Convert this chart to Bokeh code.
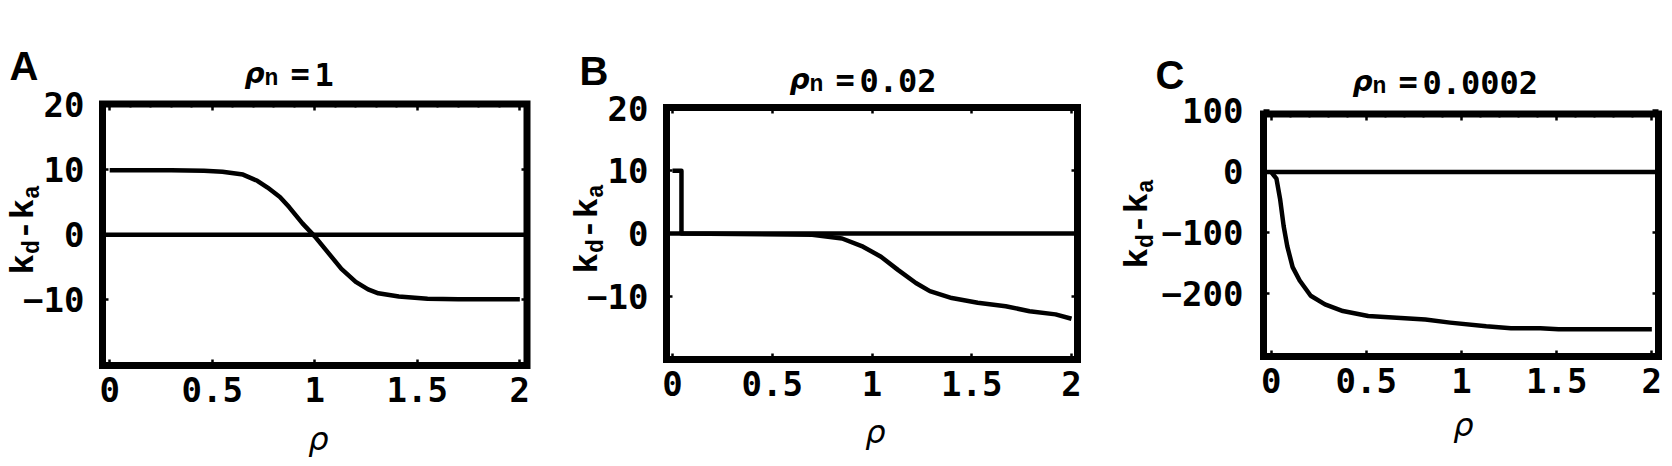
import math
from bokeh.plotting import figure
from bokeh.models import (FixedTicker, LinearAxis, Label, Range1d, BoxAnnotation,
                          CustomJSTickFormatter)
from bokeh.layouts import row
from bokeh.embed import file_html
from bokeh.resources import INLINE

# ---------------- data ----------------
rho_A = [0.0, 0.30, 0.46, 0.55, 0.65, 0.72, 0.77, 0.83, 0.875, 0.94, 1.0,
         1.065, 1.13, 1.20, 1.26, 1.31, 1.41, 1.55, 1.70, 2.0]
kdka_A = [9.9, 9.9, 9.85, 9.7, 9.25, 8.3, 7.25, 5.8, 4.25, 1.75, -0.25,
          -2.75, -5.25, -7.25, -8.4, -9.0, -9.5, -9.85, -9.9, -9.9]

rho_B = [0.0, 0.045, 0.045, 0.70, 0.85, 0.955, 1.045, 1.13, 1.22, 1.29,
         1.40, 1.53, 1.67, 1.79, 1.92, 2.0]
kdka_B = [10.0, 10.0, 0.0, -0.2, -0.8, -2.1, -3.7, -5.8, -7.9, -9.2,
          -10.3, -11.05, -11.6, -12.4, -12.9, -13.6]

rho_C = [0.0, 0.028, 0.047, 0.066, 0.085, 0.113, 0.15, 0.208, 0.283, 0.377,
         0.51, 0.66, 0.81, 0.94, 1.13, 1.26, 1.415, 1.51, 2.0]
kdka_C = [0.0, -11, -44, -89, -122, -156, -178, -203, -217, -228,
          -236, -239, -242, -247, -253, -256, -256, -258, -258]

x_ticks = [0, 0.5, 1, 1.5, 2]
y_ticks_AB = [-10, 0, 10, 20]
y_ticks_C = [-200, -100, 0, 100]
panel_letters = ["A", "B", "C"]
rho_n_values = ["1", "0.02", "0.0002"]

# ---------------- layout / style ----------------
TOP = 0          # the page template has no body margin
H = 465
TICK_FONT = "DejaVu Sans Mono"
SERIF_MONO = "Liberation Mono"
# distance from the alphabetic baseline to the 'middle' anchor, in em
MID = {"DejaVu Sans": 0.35, "DejaVu Sans Mono": 0.35, "Liberation Sans": 0.35,
       "Liberation Mono": 0.27}

specs = [
    dict(letter=panel_letters[0], rn=rho_n_values[0], x=rho_A, y=kdka_A,
         fig_left=0, w=563,
         box_px=(102, 526.5, 103.5, 365), box=(-0.035, 2.035, -20.1, 20.1),
         yt=y_ticks_AB, ymin=list(range(-20, 21, 2)), ystand=18,
         letter_pos=(9, 79), title_pos=(244, 85), xlab=(318, 450), ylab=(33, 274)),
    dict(letter=panel_letters[1], rn=rho_n_values[1], x=rho_B, y=kdka_B,
         fig_left=563, w=555,
         box_px=(666, 1077, 107, 359), box=(-0.03, 2.03, -20.1, 20.1),
         yt=y_ticks_AB, ymin=list(range(-20, 21, 2)), ystand=18,
         letter_pos=(579, 84), title_pos=(789, 91), xlab=(875, 443), ylab=(597, 273)),
    dict(letter=panel_letters[2], rn=rho_n_values[2], x=rho_C, y=kdka_C,
         fig_left=1118, w=552,
         box_px=(1263, 1658, 113.5, 356), box=(-0.04, 2.035, -302.5, 95),
         yt=y_ticks_C, ymin=list(range(-300, 81, 20)), ystand=20,
         letter_pos=(1155, 88), title_pos=(1352, 93), xlab=(1463, 436), ylab=(1147, 268)),
]

minor_x = [i / 10 for i in range(0, 21)]

figs = []
for s in specs:
    bl, br, bt, bb = s["box_px"]
    x0, x1, y0, y1 = s["box"]
    fl, fw = s["fig_left"], s["w"]
    pux = (br - bl) / (x1 - x0)
    puy = (bb - bt) / (y1 - y0)
    fx0 = x0 - (bl - fl) / pux
    fx1 = x1 + (fl + fw - br) / pux
    fy1 = y1 + (bt - TOP) / puy
    fy0 = y0 - (TOP + H - bb) / puy

    def to_data(px, py, fx0=fx0, fy1=fy1, pux=pux, puy=puy, fl=fl):
        return fx0 + (px - fl) / pux, fy1 - (py - TOP) / puy

    p = figure(width=fw, height=H, x_range=Range1d(fx0, fx1), y_range=Range1d(fy0, fy1),
               output_backend="svg", toolbar_location=None, min_border=0)
    p.grid.visible = False
    p.outline_line_color = None
    p.background_fill_color = "white"
    p.border_fill_color = "white"

    xt = FixedTicker(ticks=x_ticks, minor_ticks=minor_x)
    ytk = FixedTicker(ticks=s["yt"], minor_ticks=s["ymin"])
    fmt = CustomJSTickFormatter(code="return String(tick).replace('-', '\\u2212')")
    blank = CustomJSTickFormatter(code="return ''")

    def style_axis(ax):
        ax.axis_line_color = None
        ax.major_tick_in = 6
        ax.major_tick_out = 0
        ax.minor_tick_in = 3
        ax.minor_tick_out = 0
        ax.major_tick_line_width = 2.5
        ax.minor_tick_line_width = 2
        ax.major_tick_line_color = "black"
        ax.minor_tick_line_color = "black"

    xa = p.xaxis[0]
    xa.ticker = xt
    xa.formatter = fmt
    xa.fixed_location = y0
    style_axis(xa)
    xa.major_label_standoff = 11

    ya = p.yaxis[0]
    ya.ticker = ytk
    ya.formatter = fmt
    ya.fixed_location = x0
    style_axis(ya)
    ya.major_label_standoff = s["ystand"]

    for ax in (xa, ya):
        ax.major_label_text_font = TICK_FONT
        ax.major_label_text_font_style = "bold"
        ax.major_label_text_font_size = "34px"
        ax.major_label_text_color = "black"

    top_ax = LinearAxis(ticker=xt, formatter=blank, fixed_location=y1,
                        major_label_standoff=0, major_label_text_font_size="8px")
    style_axis(top_ax)
    p.add_layout(top_ax, "above")
    right_ax = LinearAxis(ticker=ytk, formatter=blank, fixed_location=x1,
                          major_label_standoff=0, major_label_text_font_size="8px")
    style_axis(right_ax)
    p.add_layout(right_ax, "right")

    # zero reference line across the plot box, and the curve
    p.segment(x0=[x0], y0=[0], x1=[x1], y1=[0], line_color="black", line_width=4.5)
    p.line(s["x"], s["y"], line_color="black", line_width=4.5, line_join="round")

    # plot frame
    p.add_layout(BoxAnnotation(left=x0, right=x1, bottom=y0, top=y1,
                               fill_color=None, fill_alpha=0, line_color="black",
                               line_alpha=1.0, line_width=7, line_join="miter"))

    def add_text(px, py, text, font, style, size, rotated=False, align="left"):
        # (px, py) is the alphabetic baseline point; convert to a 'middle' anchor
        shift = MID[font] * size
        if rotated:
            px -= shift
        else:
            py -= shift
        dx, dy = to_data(px, py)
        p.add_layout(Label(x=dx, y=dy, text=text, text_font=font, text_font_style=style,
                           text_font_size=f"{size}px",
                           angle=(math.pi / 2 if rotated else 0.0), text_align=align,
                           text_baseline="middle", text_color="black"))

    # panel letter
    add_text(*s["letter_pos"], s["letter"], "Liberation Sans", "bold", 40)
    # x-axis label
    add_text(*s["xlab"], "\u03c1", "DejaVu Sans", "italic", 32, align="center")

    # title: rho_n = value
    tx, tb = s["title_pos"]
    add_text(tx, tb - 2, "\u03c1", "DejaVu Sans", "bold italic", 28)
    add_text(tx + 20, tb, "n", SERIF_MONO, "bold", 23)
    add_text(tx + 46, tb, "=", TICK_FONT, "bold", 32)
    add_text(tx + 70, tb, s["rn"], TICK_FONT, "bold", 32)

    # rotated y label: k_d - k_a (reads bottom to top)
    bx, by = s["ylab"]
    ypieces = [("k", 34, 0, 20.4), ("d", 23, 6, 13.8), ("-", 34, 0, 21.0),
               ("k", 34, 0, 20.4), ("a", 23, 6, 13.8)]
    cy = by
    for txt, size, off, adv in ypieces:
        add_text(bx + off, cy, txt, SERIF_MONO, "bold", size, rotated=True)
        cy -= adv

    figs.append(p)

layout = row(*figs)
open("out.html", "w").write(file_html(layout, INLINE))
